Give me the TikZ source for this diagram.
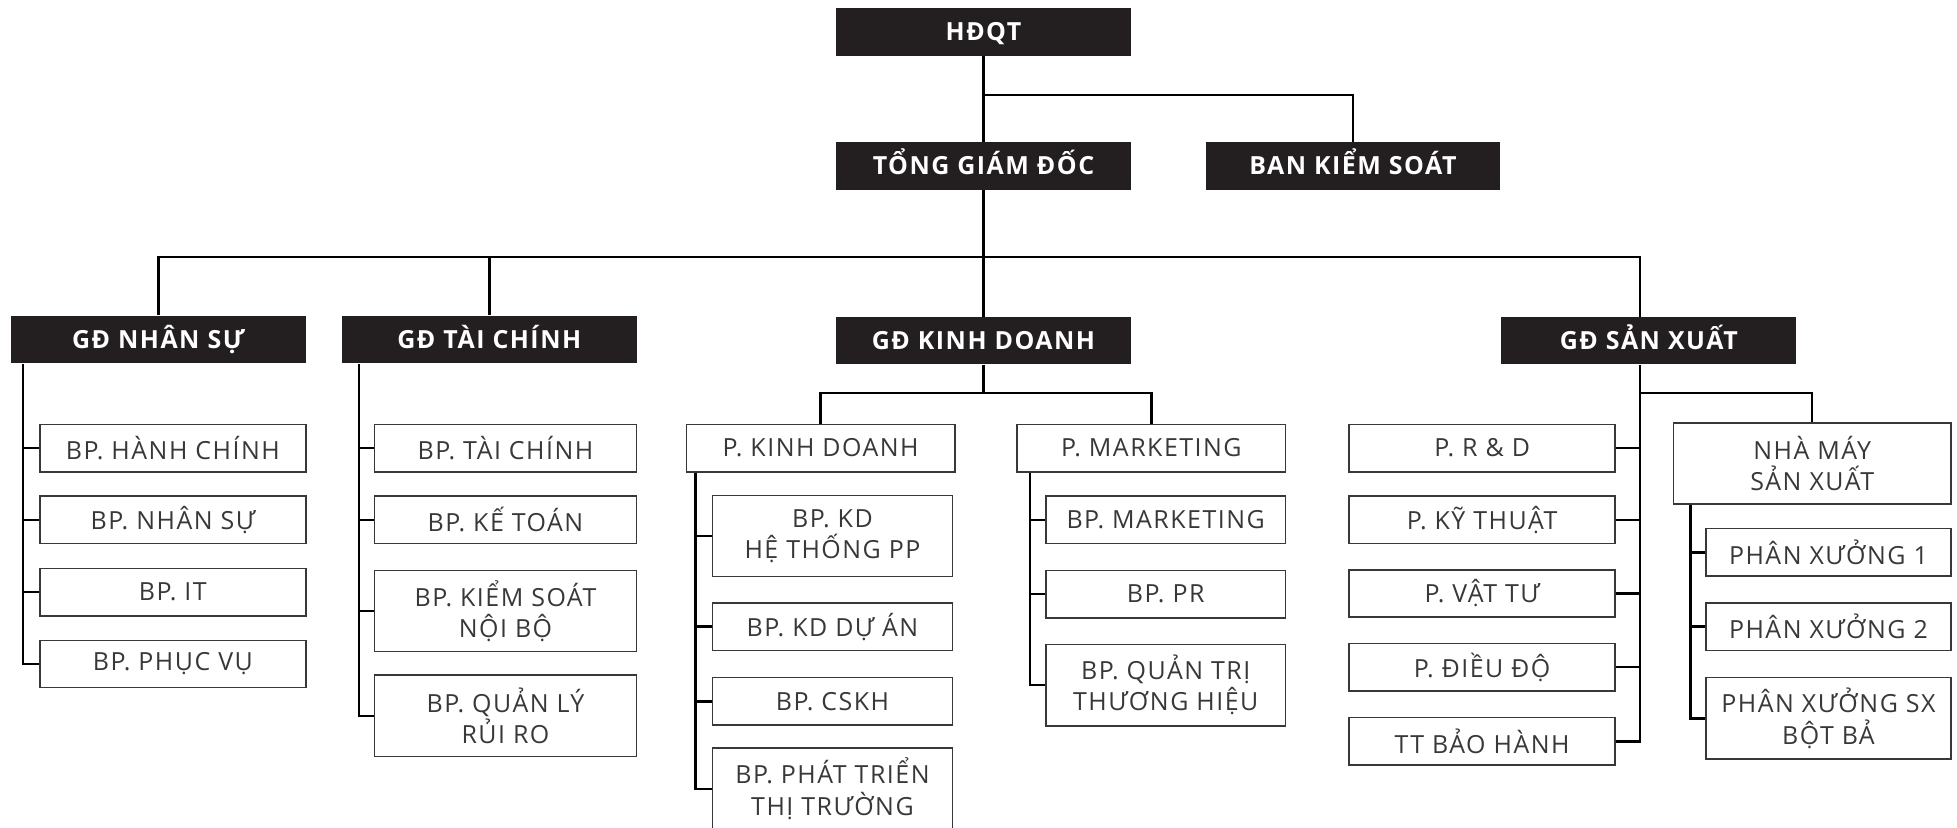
\documentclass[tikz,border=0pt]{standalone}
\usepackage{fontspec}
\setmainfont{Open Sans}[LetterSpace=6]
\definecolor{boxblack}{HTML}{231F20}
\definecolor{boxtext}{HTML}{383838}

\begin{document}
\begin{tikzpicture}[x=0.5pt,y=-0.5pt,
	head/.style={fill=boxblack,text=white,font=\bfseries,text height=7.2pt,text depth=0pt,minimum width=118pt,minimum height=19pt,inner sep=0pt},
	unit/.style={draw=boxtext,line width=0.6pt,text=boxtext,align=center,font=\fontsize{10pt}{12.5pt}\selectfont,minimum height=19pt,inner sep=0pt},
	tall/.style={minimum height=32.5pt},
	link/.style={line width=1pt}]
	\useasboundingbox (0,0) rectangle (1568,663);

	\node[head] (hdqt) at (788,25.5) {HĐQT};
	\node[head] (tgd) at (788,133) {TỔNG GIÁM ĐỐC};
	\node[head] (bks) at (1084,133) {BAN KIỂM SOÁT};
	\node[head] (gdns) at (127,272) {GĐ NHÂN SỰ};
	\node[head] (gdtc) at (392,272) {GĐ TÀI CHÍNH};
	\node[head] (gdkd) at (788,273) {GĐ KINH DOANH};
	\node[head] (gdsx) at (1321,273) {GĐ SẢN XUẤT};

	\node[unit,minimum width=106.5pt] (hc) at (138.5,359) {BP. HÀNH CHÍNH};
	\node[unit,minimum width=106.5pt] (ns) at (138.5,416.5) {BP. NHÂN SỰ};
	\node[unit,minimum width=106.5pt] (it) at (138.5,474.5) {BP. IT};
	\node[unit,minimum width=106.5pt] (pv) at (138.5,532) {BP. PHỤC VỤ};

	\node[unit,minimum width=105pt] (tc) at (405,359) {BP. TÀI CHÍNH};
	\node[unit,minimum width=105pt] (kt) at (405,416.5) {BP. KẾ TOÁN};
	\node[unit,tall,minimum width=105pt] (ks) at (405,489.5) {BP. KIỂM SOÁT\\NỘI BỘ};
	\node[unit,tall,minimum width=105pt] (ql) at (405,573.5) {BP. QUẢN LÝ\\RỦI RO};

	\node[unit,minimum width=107.5pt] (pkd) at (657.5,359) {P. KINH DOANH};
	\node[unit,minimum width=107.5pt] (pmk) at (922.5,359) {P. MARKETING};
	\node[unit,tall,minimum width=96pt] (htpp) at (667,429.5) {BP. KD\\HỆ THỐNG PP};
	\node[unit,minimum width=96pt] (da) at (667,502) {BP. KD DỰ ÁN};
	\node[unit,minimum width=96pt] (cskh) at (667,562) {BP. CSKH};
	\node[unit,tall,minimum width=96pt] (ptt) at (667,632) {BP. PHÁT TRIỂN\\THỊ TRƯỜNG};
	\node[unit,minimum width=96pt] (bmk) at (934,416.5) {BP. MARKETING};
	\node[unit,minimum width=96pt] (pr) at (934,476) {BP. PR};
	\node[unit,tall,minimum width=96pt] (qtth) at (934,549) {BP. QUẢN TRỊ\\THƯƠNG HIỆU};

	\node[unit,minimum width=106.5pt] (rd) at (1187.5,359) {P. R \& D};
	\node[unit,minimum width=106.5pt] (kth) at (1187.5,416.5) {P. KỸ THUẬT};
	\node[unit,minimum width=106.5pt] (vt) at (1187.5,475.5) {P. VẬT TƯ};
	\node[unit,minimum width=106.5pt] (dd) at (1187.5,534.5) {P. ĐIỀU ĐỘ};
	\node[unit,minimum width=106.5pt] (bh) at (1187.5,594) {TT BẢO HÀNH};
	\node[unit,tall,minimum width=111pt] (nm) at (1452,371.5) {NHÀ MÁY\\SẢN XUẤT};
	\node[unit,minimum width=98pt] (px1) at (1465,442.5) {PHÂN XƯỞNG 1};
	\node[unit,minimum width=98pt] (px2) at (1465,502) {PHÂN XƯỞNG 2};
	\node[unit,tall,minimum width=98pt] (pxsx) at (1465,575.5) {PHÂN XƯỞNG SX\\BỘT BẢ};

	\coordinate (split) at (788,76);
	\coordinate (bus) at (788,206);
	\coordinate (kdsplit) at (788,315);
	\coordinate (nsr) at ([xshift=5pt]gdns.south west);
	\coordinate (tcr) at ([xshift=7pt]gdtc.south west);
	\coordinate (kdr) at ([xshift=4pt]pkd.south west);
	\coordinate (mkr) at ([xshift=5.5pt]pmk.south west);
	\coordinate (sxr) at ([xshift=-3.5pt]gdsx.south);
	\coordinate (nmr) at ([xshift=7pt]nm.south west);

	\draw[link] (hdqt) -- (tgd);
	\draw[link] (split) -| (bks);
	\draw[link] (tgd) -- (gdkd);
	\draw[link] (gdns) |- (bus) -| ([xshift=-3.5pt]gdsx.north);
	\draw[link] (gdtc) -- (gdtc |- bus);
	\draw[link] (gdkd) -- (kdsplit);
	\draw[link] (pkd) |- (kdsplit) -| (pmk);
	\draw[link] (sxr |- kdsplit) -| (nm);

	\draw[link] (nsr) |- (pv);
	\foreach \n in {hc,ns,it} \draw[link] (nsr |- \n) -- (\n);
	\draw[link] (tcr) |- (ql);
	\foreach \n in {tc,kt,ks} \draw[link] (tcr |- \n) -- (\n);
	\draw[link] (kdr) |- (ptt);
	\foreach \n in {htpp,da,cskh} \draw[link] (kdr |- \n) -- (\n);
	\draw[link] (mkr) |- (qtth);
	\foreach \n in {bmk,pr} \draw[link] (mkr |- \n) -- (\n);
	\draw[link] (sxr) |- (bh);
	\foreach \n in {rd,kth,vt,dd} \draw[link] (sxr |- \n) -- (\n);
	\draw[link] (nmr) |- (pxsx);
	\foreach \n in {px1,px2} \draw[link] (nmr |- \n) -- (\n);
\end{tikzpicture}
\end{document}
